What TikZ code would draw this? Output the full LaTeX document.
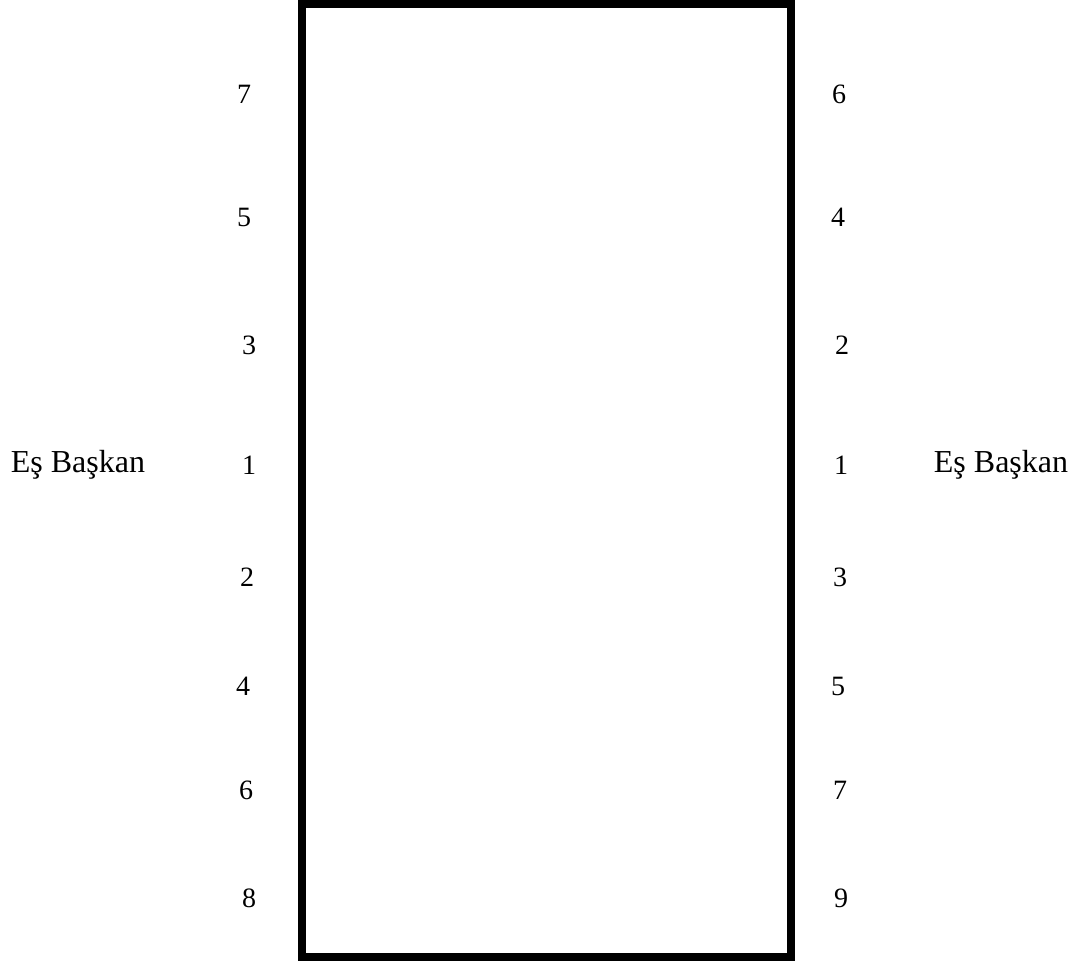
\documentclass[tikz,border=0pt]{standalone}
\usepackage{fontspec}
\setmainfont{Liberation Serif}
\usetikzlibrary{positioning}
\tikzset{num/.style = {inner sep = 0, anchor = base, font = \fontsize{21}{21}\selectfont}}
\tikzset{seat/.style = {inner sep = 0, anchor = base, font = \fontsize{24}{24}\selectfont}}
\tikzset{every picture/.style={
    every path/.style={line width = 6pt},
}}

\begin{document}
\begin{tikzpicture}[x = 0.75pt, y = -0.75pt]
    \useasboundingbox (0, 0) rectangle (1082, 965);
    \draw (302, 4) rectangle (791, 957);

    \foreach \n/\x/\y in {7/244/103, 5/244/226, 3/249/354, 1/249/474, 2/247/586, 4/243/695, 6/246/799, 8/249/907}
      \node [num] (l\n) at (\x, \y) {\n};
    \foreach \n/\x/\y in {6/839/103, 4/838/226, 2/842/354, 1/841/474, 3/840/586, 5/838/695, 7/840/799, 9/841/907}
      \node [num] (r\n) at (\x, \y) {\n};

    \node [seat] (lseat) at (78, 472) {Eş Başkan};
    \node [seat] (rseat) at (1001, 472) {Eş Başkan};
  \end{tikzpicture}
\end{document}
